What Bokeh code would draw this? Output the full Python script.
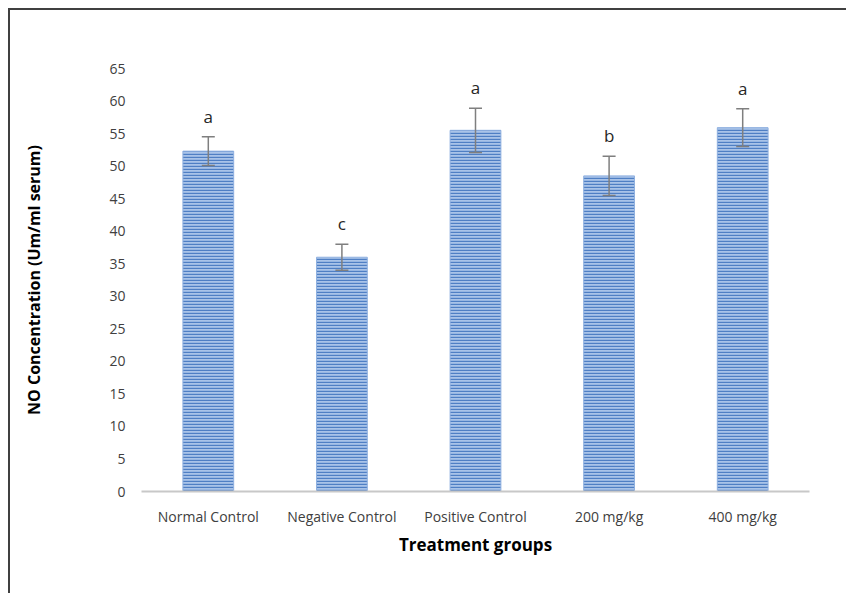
from bokeh.plotting import figure
from bokeh.models import ColumnDataSource, Range1d, Whisker, FactorRange, LabelSet
from bokeh.core.properties import value
from bokeh.embed import file_html
from bokeh.resources import INLINE

groups = ["Normal Control", "Negative Control", "Positive Control", "200 mg/kg", "400 mg/kg"]
means = [52.3, 36.0, 55.5, 48.5, 55.9]
errors = [2.2, 2.0, 3.4, 3.0, 2.9]
letters = ["a", "c", "a", "b", "a"]
y_ticks = [0, 5, 10, 15, 20, 25, 30, 35, 40, 45, 50, 55, 60, 65]

upper = [m + e for m, e in zip(means, errors)]
lower = [m - e for m, e in zip(means, errors)]
label_y = [u + 3.2 for u in upper]

src = ColumnDataSource(dict(x=groups, top=means, upper=upper, lower=lower,
                            ly=label_y, lab=letters))

p = figure(x_range=FactorRange(*groups), y_range=Range1d(0, 65),
           width=838, height=585, output_backend="svg", toolbar_location=None,
           min_border_left=133, min_border_right=37, min_border_top=60, min_border_bottom=102)
p.x_range.range_padding = 0
p.outline_line_color = None
p.border_fill_color = None
p.background_fill_color = None
p.xgrid.grid_line_color = None
p.ygrid.grid_line_color = None
p.styles = {"margin-left": "8px", "margin-top": "8px",
            "box-shadow": "inset 2px 2px 0 0 #404040", "background-color": "white"}

p.vbar(x="x", top="top", width=0.38, source=src,
       fill_color="#a9c3e8", line_color="#8fb0e0", line_width=1,
       hatch_pattern="horizontal_line", hatch_color="#4f7fc4",
       hatch_scale=3, hatch_weight=1.4)

w = Whisker(source=src, base="x", upper="upper", lower="lower",
            line_color="#7f7f7f", line_width=1.5, level="overlay")
w.upper_head.size = 13
w.lower_head.size = 13
w.upper_head.line_color = "#7f7f7f"
w.lower_head.line_color = "#7f7f7f"
w.upper_head.line_width = 1.5
w.lower_head.line_width = 1.5
p.add_layout(w)

labels = LabelSet(x="x", y="ly", text="lab", source=src, text_align="center",
                  text_baseline="middle", text_font=value("Open Sans"), text_font_size="17px",
                  text_color="#262626")
p.add_layout(labels)

p.yaxis.ticker = y_ticks
p.yaxis.axis_line_color = None
p.yaxis.major_tick_line_color = None
p.yaxis.minor_tick_line_color = None
p.yaxis.major_label_text_font = "Open Sans"
p.yaxis.major_label_text_font_size = "14px"
p.yaxis.major_label_text_color = "#404040"
p.yaxis.major_label_standoff = 10
p.yaxis.axis_label = "NO Concentration (Um/ml serum)"
p.yaxis.axis_label_text_font = "Open Sans"
p.yaxis.axis_label_text_font_style = "bold"
p.yaxis.axis_label_text_font_size = "16px"
p.yaxis.axis_label_text_color = "#000000"
p.yaxis.axis_label_standoff = 61

p.xaxis.axis_line_color = "#c8c8c8"
p.xaxis.axis_line_width = 2
p.xaxis.major_tick_line_color = None
p.xaxis.minor_tick_line_color = None
p.xaxis.major_label_text_font = "Open Sans"
p.xaxis.major_label_text_font_size = "14px"
p.xaxis.major_label_text_color = "#404040"
p.xaxis.major_label_standoff = 9
p.xaxis.axis_label = "Treatment groups"
p.xaxis.axis_label_text_font = "Open Sans"
p.xaxis.axis_label_text_font_style = "bold"
p.xaxis.axis_label_text_font_size = "17px"
p.xaxis.axis_label_text_color = "#000000"
p.xaxis.axis_label_standoff = 4

open("out.html", "w").write(file_html(p, INLINE))
